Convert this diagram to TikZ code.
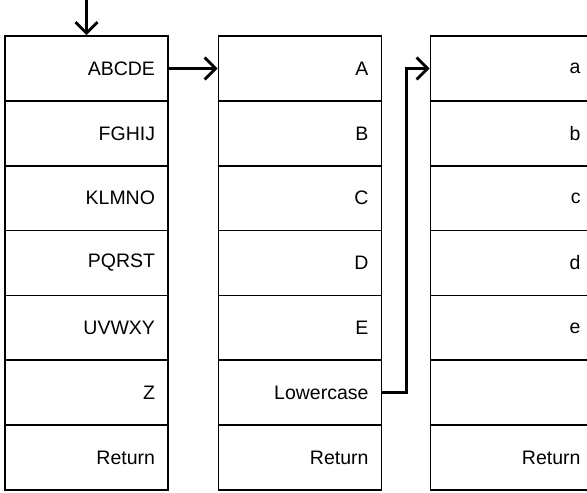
\documentclass[tikz,border=0pt]{standalone}
\usepackage{fontspec}
\setmainfont{Liberation Sans}
\usetikzlibrary{arrows.meta}
\begin{document}
\begin{tikzpicture}[x=1pt,y=-1pt,
  cell/.style={draw=black, line width=1.8pt, rectangle, minimum width=163pt, minimum height=64.86pt,
    text width=137pt, align=right, inner xsep=13pt, inner ysep=0pt,
    font=\fontsize{19.5}{23}\selectfont},
  link/.style={line width=2.8pt, -{Straight Barb[length=11pt,width=22pt,line width=2.8pt]}}]
\clip (0,0) rectangle (587,493);
\def\rowh{64.86}
\foreach \t [count=\i] in {ABCDE,FGHIJ,KLMNO,PQRST,UVWXY,Z,Return}
  \node[cell] (a\i) at (86.5, {36+\rowh/2+(\i-1)*\rowh}) {\t};
\foreach \t [count=\i] in {A,B,C,D,E,Lowercase,Return}
  \node[cell] (b\i) at (300, {36+\rowh/2+(\i-1)*\rowh}) {\t};
\foreach \t [count=\i] in {a,b,c,d,e,{},Return}
  \node[cell] (c\i) at (512, {36+\rowh/2+(\i-1)*\rowh}) {\t};
\coordinate (start) at (86.5,0);
\draw[link] (start) -- (a1.north);
\draw[link] (a1.east) -- (b1.west);
\draw[link] (b6.east) -- ++(24,0) |- (c1.west);
\end{tikzpicture}
\end{document}
